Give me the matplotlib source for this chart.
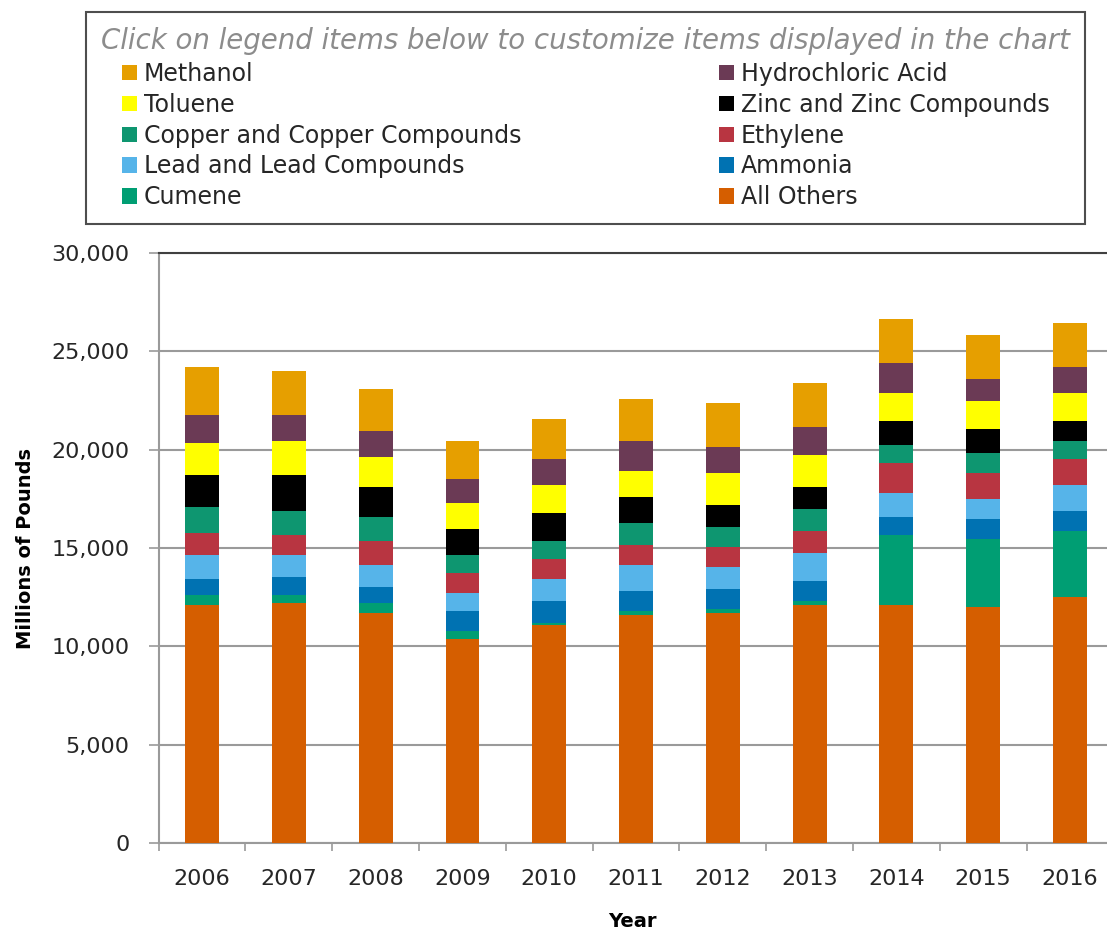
import matplotlib
matplotlib.use('Agg')
import matplotlib.pyplot as plt
from matplotlib.patches import Patch
from matplotlib.ticker import FuncFormatter, FixedLocator
import numpy as np

# Data (millions of pounds)
years = ['2006', '2007', '2008', '2009', '2010', '2011', '2012', '2013', '2014', '2015', '2016']

all_others = [12100, 12200, 11700, 10380, 11090, 11600, 11700, 12100, 12100, 12000, 12510]
cumene = [510, 410, 510, 410, 100, 200, 200, 200, 3560, 3460, 3350]
ammonia = [810, 920, 810, 1020, 1120, 1020, 1020, 1020, 920, 1020, 1020]
lead = [1220, 1120, 1120, 920, 1120, 1320, 1120, 1420, 1220, 1020, 1320]
ethylene = [1120, 1020, 1220, 1020, 1020, 1020, 1020, 1120, 1520, 1320, 1320]
copper = [1320, 1220, 1220, 920, 920, 1120, 1020, 1120, 920, 1020, 920]
zinc = [1630, 1830, 1530, 1320, 1420, 1320, 1120, 1120, 1220, 1220, 1020]
toluene = [1630, 1730, 1530, 1320, 1420, 1320, 1630, 1630, 1420, 1420, 1420]
hcl = [1420, 1320, 1320, 1220, 1320, 1530, 1320, 1420, 1530, 1120, 1320]
methanol = [2440, 2240, 2140, 1930, 2030, 2140, 2240, 2240, 2240, 2240, 2240]

# stacked bottom -> top
series = [
    ('All Others', all_others, '#D55E00'),
    ('Cumene', cumene, '#009E73'),
    ('Ammonia', ammonia, '#0072B2'),
    ('Lead and Lead Compounds', lead, '#56B4E9'),
    ('Ethylene', ethylene, '#B83541'),
    ('Copper and Copper Compounds', copper, '#0E9670'),
    ('Zinc and Zinc Compounds', zinc, '#000000'),
    ('Toluene', toluene, '#FFFF00'),
    ('Hydrochloric Acid', hcl, '#6B3A55'),
    ('Methanol', methanol, '#E69F00'),
]

# legend order (column-wise fill with ncol=2)
legend_order = ['Methanol', 'Toluene', 'Copper and Copper Compounds',
                'Lead and Lead Compounds', 'Cumene',
                'Hydrochloric Acid', 'Zinc and Zinc Compounds', 'Ethylene',
                'Ammonia', 'All Others']

plt.rcParams['font.family'] = 'DejaVu Sans'

fig = plt.figure(figsize=(11.07, 9.34), dpi=100)
ax = fig.add_axes([0.1433, 0.0974, 0.8567, 0.6317])

x = np.arange(len(years))
bottom = np.zeros(len(years))
colors = {}
for name, vals, col in series:
    ax.bar(x, vals, width=0.39, bottom=bottom, color=col, zorder=3)
    bottom += np.array(vals)
    colors[name] = col

ax.set_ylim(0, 30000)
ax.set_xlim(-0.5, 10.426)
ax.set_yticks(range(0, 30001, 5000))
ax.yaxis.set_major_formatter(FuncFormatter(lambda v, p: f'{int(v):,}'))
ax.set_xticks(x)
ax.set_xticklabels(years)
ax.xaxis.set_minor_locator(FixedLocator(np.arange(-0.5, 11, 1.0)))

ax.grid(axis='y', color='#9a9a9a', linewidth=1.5, zorder=0)
ax.spines['right'].set_visible(False)
ax.spines['top'].set_color('#404040')
ax.spines['top'].set_linewidth(1.5)
ax.spines['left'].set_color('#9a9a9a')
ax.spines['left'].set_linewidth(1.5)
ax.spines['bottom'].set_color('#9a9a9a')
ax.spines['bottom'].set_linewidth(1.5)

ax.tick_params(axis='y', length=7, width=1.2, color='#9a9a9a', pad=14,
               labelsize=16, labelcolor='#262626')
ax.tick_params(axis='x', which='major', length=0, pad=19,
               labelsize=16, labelcolor='#262626')
ax.tick_params(axis='x', which='minor', length=6, width=1.2, color='#9a9a9a')

ax.set_ylabel('Millions of Pounds', fontsize=14, fontweight='bold', labelpad=12)
ax.set_xlabel('Year', fontsize=14, fontweight='bold', labelpad=16)

handles = [Patch(facecolor=colors[n], edgecolor='none') for n in legend_order]
leg = fig.legend(handles, legend_order, ncol=2, loc='upper left',
                 bbox_to_anchor=(86 / 1107, 1 - 12 / 934), borderaxespad=0,
                 fontsize=17, frameon=True, fancybox=False,
                 handlelength=0.64, handleheight=0.64, handletextpad=0.3,
                 labelspacing=0.29, columnspacing=8.36, borderpad=0.64,
                 title='Click on legend items below to customize items displayed in the chart',
                 title_fontproperties={'size': 19.9, 'style': 'italic'})
leg.get_title().set_color('#8c8c8c')
leg.get_frame().set_edgecolor('#222222')
leg.get_frame().set_linewidth(1.5)
for t in leg.get_texts():
    t.set_color('#262626')

fig.savefig('out.png', dpi=100)
